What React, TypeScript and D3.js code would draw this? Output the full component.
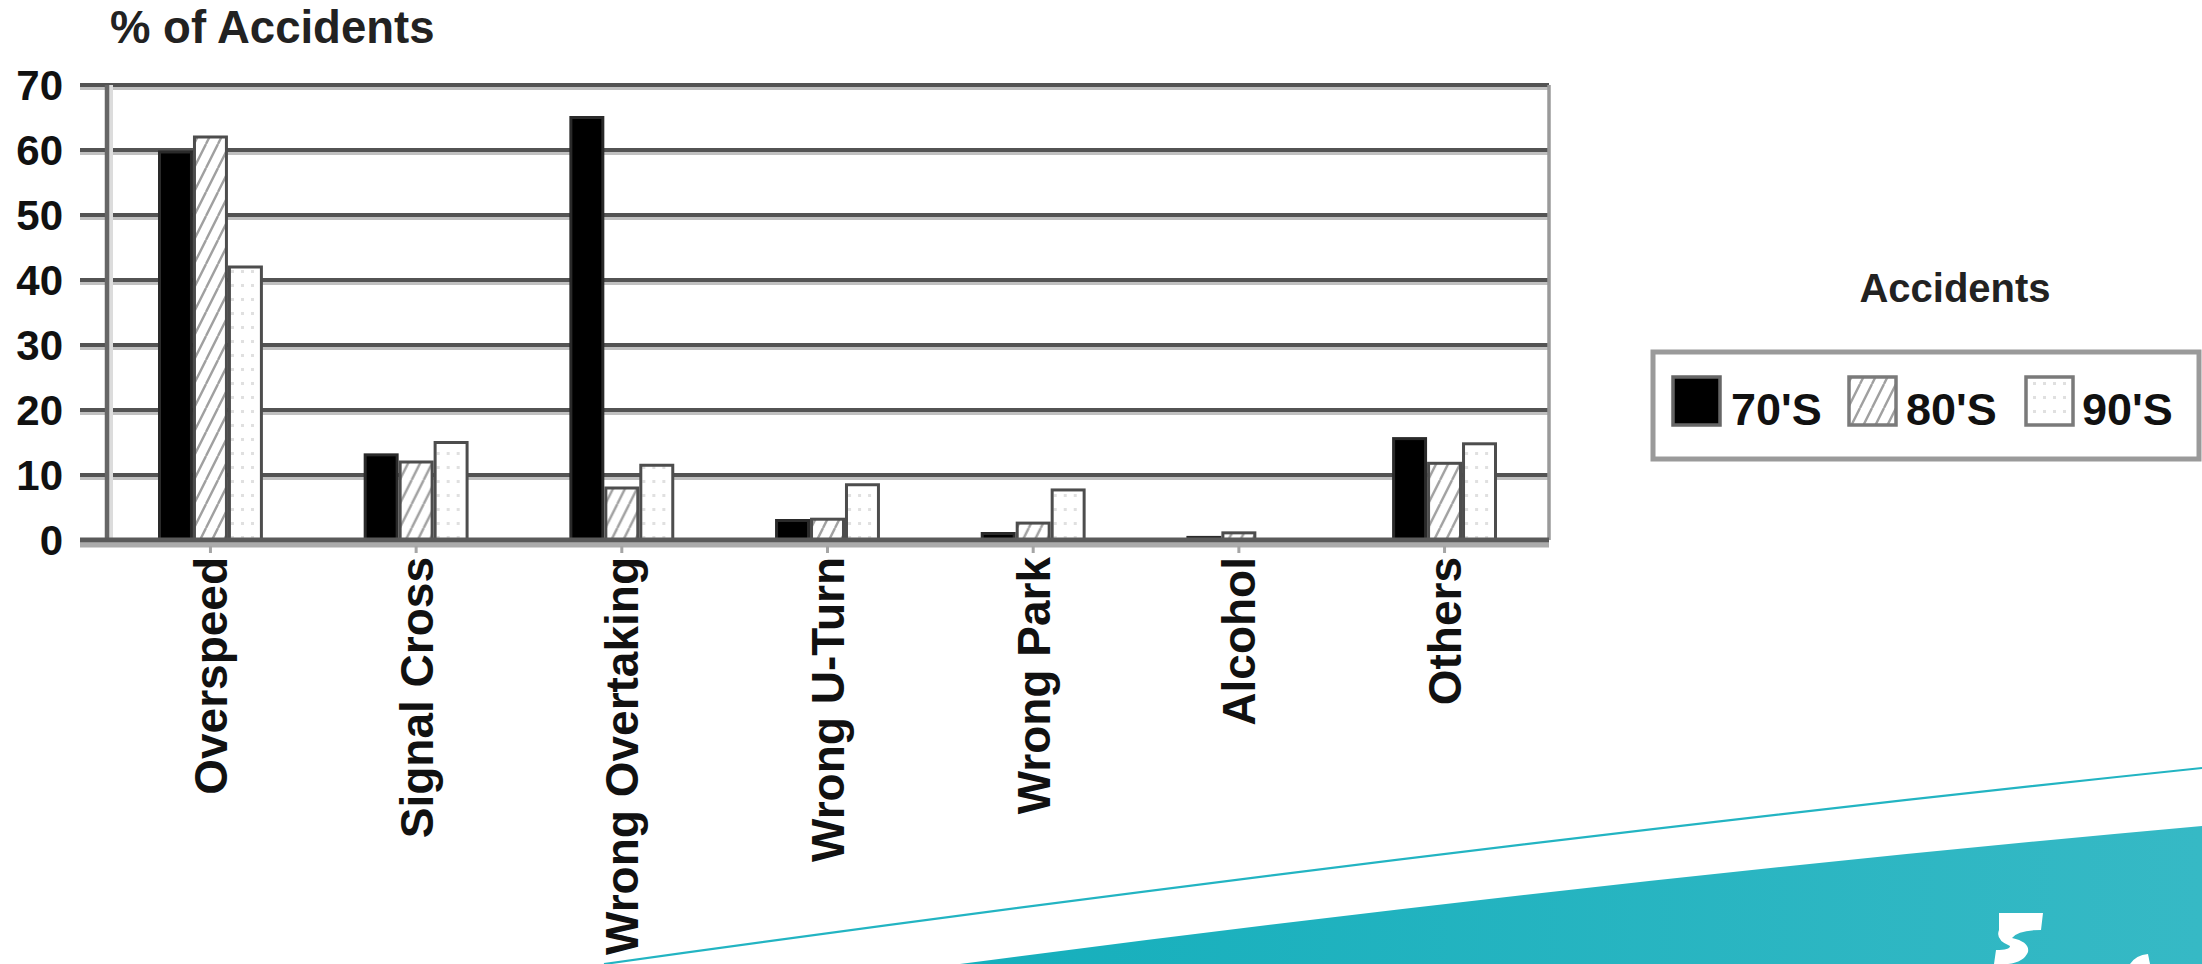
import React from 'react';
import * as d3 from 'd3';

const categories = ['Overspeed', 'Signal Cross', 'Wrong Overtaking', 'Wrong U-Turn', 'Wrong Park', 'Alcohol', 'Others'];
const seriesNames = ["70'S", "80'S", "90'S"];
const values70s = [59.7, 13.1, 65, 3, 1, 0.4, 15.6];
const values80s = [62, 12, 8, 3.2, 2.6, 1.1, 11.8];
const values90s = [42, 15, 11.5, 8.5, 7.7, 0, 14.8];
const yTicks = [0, 10, 20, 30, 40, 50, 60, 70];
const yTitle = '% of Accidents';
const legendTitle = 'Accidents';

const W = 2202;
const H = 964;
const plotLeft = 107;
const plotRight = 1549;
const plotTop = 85;
const plotBottom = 540;
const gridStart = 80;
const FONT = '"Liberation Sans", Arial, sans-serif';

const seriesValues = [values70s, values80s, values90s];
const fills = ['#000', 'url(#hatch)', 'url(#dots)'];

export default function App() {
  const x = d3.scaleBand<string>().domain(categories).range([158, 1497]).paddingInner(0.49).paddingOuter(0);
  const xs = d3.scaleBand<string>().domain(seriesNames).range([0, x.bandwidth()]).padding(0);
  const y = d3.scaleLinear().domain([0, 70]).range([plotBottom, plotTop]);

  const legendItems = [
    { swX: 1673, txX: 1731 },
    { swX: 1849, txX: 1906 },
    { swX: 2026, txX: 2082 },
  ];

  return (
    <svg width={W} height={H} style={{ position: 'absolute', left: 0, top: 0, background: '#fff' }} fontFamily={FONT}>
      <defs>
        <pattern id="hatch" patternUnits="userSpaceOnUse" width="12" height="24">
          <rect width="12" height="24" fill="#fff" />
          <path d="M0,24 L12,0 M-6,12 L0,0 M12,24 L18,12" stroke="#a0a0a0" strokeWidth="2.4" />
        </pattern>
        <pattern id="dots" patternUnits="userSpaceOnUse" width="10" height="14">
          <rect width="10" height="14" fill="#fff" />
          <rect x="3" y="4" width="3" height="3" fill="#e0e0e0" />
        </pattern>
        <linearGradient id="teal" x1="0" y1="0" x2="1" y2="0">
          <stop offset="0" stopColor="#15afbc" />
          <stop offset="1" stopColor="#36b9c5" />
        </linearGradient>
      </defs>

      {/* decoration */}
      <path d="M 604 964 Q 1420 850 2202 768" fill="none" stroke="#22b4c2" strokeWidth={2.2} />
      <path d="M 960 964 Q 1600 880 2202 826 L 2202 964 Z" fill="url(#teal)" />
      <g fill="#fff">
        <path d="M 1999 913 L 2043 913 L 2041 930 Q 2018 930 2012 938 Q 2030 942 2028 952 Q 2024 962 2008 964 L 1994 964 L 1996 950 Q 2010 950 2010 946 Q 1995 940 1999 930 Z" />
        <path d="M 2130 964 Q 2136 955 2148 954 L 2150 964 Z" />
      </g>

      {/* title */}
      <text x={110} y={43} fontSize={45.5} fontWeight="bold" fill="#222">{yTitle}</text>

      {/* gridlines */}
      {yTicks.filter((t) => t > 0).map((t) => (
        <g key={t}>
          <line x1={gridStart} x2={plotRight} y1={y(t) + 3.5} y2={y(t) + 3.5} stroke="#c0c0c0" strokeWidth={3} />
          <line x1={gridStart} x2={plotRight} y1={y(t)} y2={y(t)} stroke="#535353" strokeWidth={4} />
        </g>
      ))}
      {/* axes frame */}
      <line x1={plotLeft + 4} x2={plotLeft + 4} y1={plotTop} y2={plotBottom} stroke="#dcdcdc" strokeWidth={4} />
      <line x1={plotLeft} x2={plotLeft} y1={plotTop} y2={plotBottom} stroke="#666" strokeWidth={4.5} />
      <line x1={plotRight} x2={plotRight} y1={plotTop} y2={plotBottom} stroke="#9a9a9a" strokeWidth={3.5} />

      {/* y tick labels */}
      {yTicks.map((t) => (
        <text key={t} x={63} y={y(t)} dy="0.36em" textAnchor="end" fontSize={42} fontWeight="bold" fill="#111">
          {t}
        </text>
      ))}

      {/* bars */}
      {categories.map((c, i) => (
        <g key={c} transform={`translate(${x(c)},0)`}>
          {seriesNames.map((s, j) => {
            const v = seriesValues[j][i];
            if (v <= 0) return null;
            return (
              <rect
                key={s}
                x={xs(s)! + 1.5}
                y={y(v)}
                width={xs.bandwidth() - 3}
                height={plotBottom - y(v)}
                fill={fills[j]}
                stroke={j === 0 ? '#2a2a2a' : '#4d4d4d'}
                strokeWidth={3}
              />
            );
          })}
        </g>
      ))}

      {/* baseline */}
      <line x1={gridStart} x2={plotRight} y1={plotBottom + 5} y2={plotBottom + 5} stroke="#ababab" strokeWidth={5} />
      <line x1={gridStart} x2={plotRight} y1={plotBottom} y2={plotBottom} stroke="#5a5a5a" strokeWidth={5} />
      {categories.map((c) => {
        const cx = x(c)! + x.bandwidth() / 2;
        return <line key={c} x1={cx} x2={cx} y1={plotBottom + 6} y2={plotBottom + 13} stroke="#a5a5a5" strokeWidth={3} />;
      })}

      {/* category labels */}
      {categories.map((c) => {
        const cx = x(c)! + x.bandwidth() / 2;
        return (
          <text
            key={c}
            transform={`translate(${cx},${557}) rotate(-90)`}
            textAnchor="end"
            dy="0.36em"
            fontSize={46}
            fontWeight="bold"
            fill="#111"
          >
            {c}
          </text>
        );
      })}

      {/* legend */}
      <text x={1955} y={302} textAnchor="middle" fontSize={40} fontWeight="bold" fill="#222">
        {legendTitle}
      </text>
      <rect x={1653} y={352} width={546} height={107} fill="#fff" stroke="#9a9a9a" strokeWidth={5} />
      {seriesNames.map((s, j) => (
        <g key={s}>
          <rect x={legendItems[j].swX} y={377} width={47} height={48} fill={fills[j]} stroke={j === 0 ? '#666' : '#7a7a7a'} strokeWidth={3.5} />
          <text x={legendItems[j].txX} y={425} fontSize={45} fontWeight="bold" fill="#111">
            {s}
          </text>
        </g>
      ))}
    </svg>
  );
}
